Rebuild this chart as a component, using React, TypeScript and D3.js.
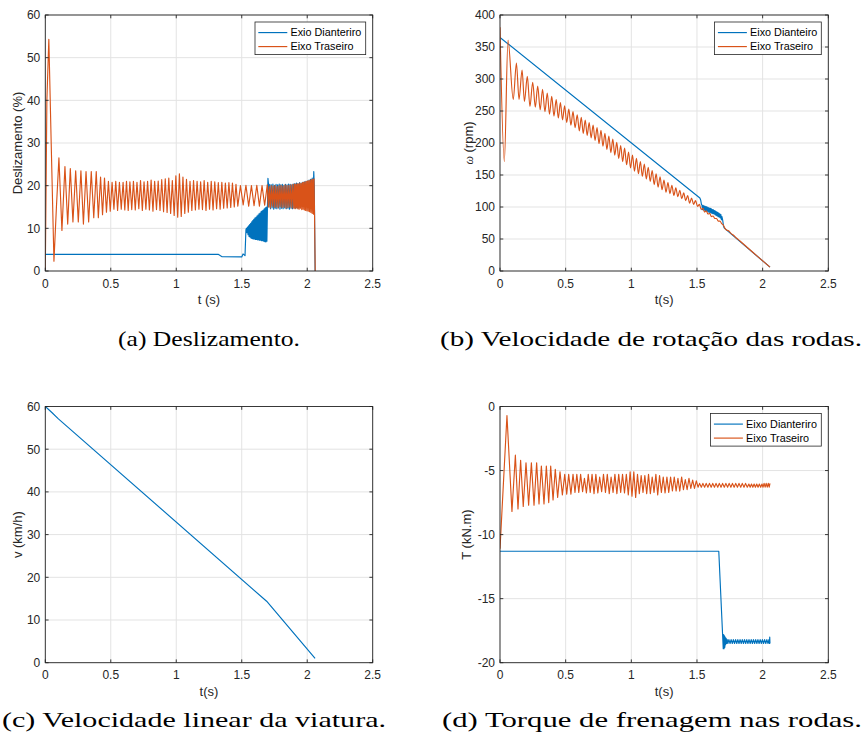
import React from "react";
import * as d3 from "d3";

type Pt = [number, number];

// ---------- ticks / labels ----------
const X_TICKS = [0, 0.5, 1, 1.5, 2, 2.5];
const X_TICK_LABELS = ["0", "0.5", "1", "1.5", "2", "2.5"];
const SLIP_TICKS = [0, 10, 20, 30, 40, 50, 60];
const SLIP_TICK_LABELS = ["0", "10", "20", "30", "40", "50", "60"];
const OMEGA_TICKS = [0, 50, 100, 150, 200, 250, 300, 350, 400];
const OMEGA_TICK_LABELS = ["0", "50", "100", "150", "200", "250", "300", "350", "400"];
const SPEED_TICKS = [0, 10, 20, 30, 40, 50, 60];
const SPEED_TICK_LABELS = ["0", "10", "20", "30", "40", "50", "60"];
const TORQUE_TICKS = [0, -5, -10, -15, -20];
const TORQUE_TICK_LABELS = ["0", "-5", "-10", "-15", "-20"];

const LEGEND_A = ["Exio Dianteriro", "Eixo Traseiro"];
const LEGEND_B = ["Eixo Dianteiro", "Eixo Traseiro"];
const LEGEND_D = ["Eixo Dianteriro", "Eixo Traseiro"];

const CAPTIONS = [
  "(a) Deslizamento.",
  "(b) Velocidade de rotação das rodas.",
  "(c) Velocidade linear da viatura.",
  "(d) Torque de frenagem nas rodas.",
];

// ---------- (a) slip, % ----------
const slipFront: Pt[] = [
  [0, 3.9], [1.32, 3.9], [1.35, 3.35], [1.5, 3.3], [1.51, 4.0], [1.525, 3.6], [1.532, 9.7],
  [1.536, 10.0], [1.54, 9.0], [1.544, 10.3], [1.548, 8.5], [1.552, 10.6], [1.556, 8.1], [1.56, 10.9], [1.564, 7.9],
  [1.568, 11.2], [1.572, 7.7], [1.576, 11.5], [1.58, 7.6], [1.584, 11.8], [1.588, 7.5], [1.592, 12.1], [1.596, 7.5],
  [1.6, 12.4], [1.604, 7.4], [1.608, 12.6], [1.612, 7.4], [1.616, 12.9], [1.62, 7.3], [1.624, 13.1], [1.628, 7.3],
  [1.632, 13.4], [1.636, 7.2], [1.64, 13.6], [1.644, 7.2], [1.648, 13.9], [1.652, 7.1], [1.656, 14.1], [1.66, 7.1],
  [1.664, 14.3], [1.668, 7.0], [1.672, 14.6], [1.676, 6.9], [1.68, 14.8], [1.684, 6.8], [1.688, 15.0], [1.692, 7.0],
  [1.7, 21.7], [1.704, 20.5],
  [1.708, 15.0], [1.714, 20.3], [1.72, 14.6], [1.726, 20.2], [1.732, 14.8], [1.738, 20.4], [1.744, 14.5], [1.75, 20.1],
  [1.756, 14.7], [1.762, 20.3], [1.768, 14.6], [1.774, 20.2], [1.78, 14.8], [1.786, 20.4], [1.792, 14.5], [1.798, 20.2],
  [1.804, 14.7], [1.81, 20.3], [1.816, 14.6], [1.822, 20.1], [1.828, 14.8], [1.834, 20.3], [1.84, 14.6], [1.846, 20.2],
  [1.852, 14.7], [1.858, 20.4], [1.864, 14.5], [1.87, 20.3], [1.876, 14.7], [1.882, 20.2], [1.888, 14.6], [1.894, 20.4],
  [1.9, 14.8], [1.906, 20.5], [1.912, 14.7], [1.918, 20.6], [1.924, 14.8], [1.93, 20.5], [1.936, 14.9], [1.942, 20.7],
  [1.948, 15.0], [1.954, 20.6], [1.96, 15.1], [1.966, 20.8], [1.972, 15.2], [1.978, 20.9], [1.984, 15.3], [1.99, 21.0],
  [1.996, 15.4], [2.002, 21.1], [2.008, 15.5], [2.014, 21.3], [2.02, 15.6], [2.026, 21.5], [2.032, 15.8], [2.038, 21.8],
  [2.044, 16.5], [2.05, 23.3], [2.054, 20.0], [2.06, 0],
];

const slipRear: Pt[] = [
  [0, 0], [0.012, 40], [0.027, 54.3], [0.045, 30], [0.066, 2.3], [0.085, 15], [0.104, 26.5], [0.127, 9.5],
  [0.15, 24.5], [0.171, 11], [0.191, 24], [0.211, 11.5], [0.232, 23.5], [0.252, 11.5], [0.272, 23.5], [0.291, 11],
  [0.311, 23.3], [0.331, 11.5], [0.351, 23.3], [0.37, 12.5], [0.389, 23.3], [0.405, 12.5], [0.422, 22], [0.437, 13.2],
  [0.452, 21.8], [0.467, 13.8], [0.482, 21], [0.496, 14], [0.51, 20.8], [0.524, 14.5], [0.538, 21], [0.552, 14.2],
  [0.566, 20.8], [0.58, 14.5], [0.594, 20.8], [0.607, 14.3], [0.62, 21], [0.633, 14.2], [0.646, 20.9],
  [0.66, 14.4], [0.673, 21.0], [0.687, 14.3], [0.7, 20.8], [0.714, 14.6], [0.727, 21.2], [0.741, 14.2], [0.754, 20.9],
  [0.768, 14.5], [0.781, 21.0], [0.795, 14.3], [0.808, 21.3], [0.822, 14.0], [0.835, 21.0], [0.849, 14.4], [0.862, 21.1],
  [0.876, 14.2], [0.889, 21.4], [0.903, 13.9], [0.916, 21.6], [0.93, 13.7], [0.943, 21.8], [0.957, 13.5], [0.97, 21.2],
  [0.984, 13.0], [0.997, 22.3], [1.011, 12.6], [1.024, 22.8], [1.038, 12.8], [1.051, 22.0], [1.065, 13.5], [1.078, 21.5],
  [1.092, 13.8], [1.105, 21.0], [1.119, 14.2], [1.132, 21.2], [1.146, 14.3], [1.159, 21.0], [1.173, 14.5], [1.186, 20.9],
  [1.2, 14.4], [1.213, 21.2], [1.227, 14.2], [1.24, 20.8], [1.254, 14.5], [1.267, 21.0], [1.281, 14.3], [1.294, 20.9],
  [1.308, 14.6], [1.321, 20.7], [1.335, 14.5], [1.348, 20.8], [1.362, 14.7], [1.375, 20.6], [1.389, 14.8], [1.402, 20.7],
  [1.416, 14.9], [1.429, 20.6], [1.443, 15.0], [1.456, 20.3], [1.47, 15.2],
  [1.49, 20.0], [1.511, 15.5], [1.532, 20.1], [1.553, 15.2], [1.574, 20.0], [1.594, 15.3], [1.615, 20.1], [1.635, 15.2],
  [1.655, 20.0], [1.675, 15.4], [1.695, 20.2],
  [1.703, 15.0], [1.71, 19.8], [1.718, 14.8], [1.725, 20.0], [1.733, 15.2], [1.74, 19.9], [1.748, 14.9], [1.755, 20.1],
  [1.763, 15.0], [1.77, 19.8], [1.778, 14.8], [1.785, 20.0], [1.793, 15.1], [1.8, 20.1], [1.808, 14.9], [1.815, 19.9],
  [1.823, 15.0], [1.83, 20.2], [1.838, 14.7], [1.845, 20.0], [1.853, 14.9], [1.86, 20.1], [1.868, 15.0], [1.875, 20.2],
  [1.883, 14.8], [1.89, 20.3], [1.898, 14.7],
  [1.903, 20.4], [1.908, 14.6], [1.913, 20.3], [1.918, 14.8], [1.923, 20.5], [1.928, 14.6], [1.933, 20.4], [1.938, 14.5],
  [1.943, 20.6], [1.948, 14.7], [1.953, 20.5], [1.958, 14.4], [1.963, 20.7], [1.968, 14.5], [1.973, 20.8], [1.978, 14.3],
  [1.983, 20.9], [1.988, 14.2], [1.993, 21.0], [1.998, 14.1], [2.003, 21.1], [2.008, 14.0], [2.013, 21.2], [2.018, 13.9],
  [2.023, 21.3], [2.028, 13.7], [2.033, 21.4], [2.038, 13.5], [2.043, 21.5], [2.048, 13.3], [2.052, 21.6], [2.056, 13.0],
  [2.061, 0],
];

// ---------- (b) wheel speed, rpm ----------
const omegaFront: Pt[] = [
  [0, 365], [1.522, 114], [1.528, 111], [1.534, 104],
  [1.538, 103], [1.542, 96], [1.546, 102.5], [1.55, 95.5], [1.554, 102], [1.558, 95], [1.562, 101], [1.566, 94],
  [1.57, 100.5], [1.574, 93.5], [1.578, 100], [1.582, 93], [1.586, 99], [1.59, 92], [1.594, 98.5], [1.598, 91.5],
  [1.602, 98], [1.606, 91], [1.61, 97], [1.614, 90], [1.618, 96], [1.622, 89.5], [1.626, 95.5], [1.63, 89],
  [1.634, 94.5], [1.638, 88], [1.642, 93.5], [1.646, 87], [1.65, 92.5], [1.654, 86], [1.658, 91.5], [1.662, 85],
  [1.666, 90.5], [1.67, 84], [1.674, 89.5], [1.678, 83], [1.682, 88], [1.686, 80], [1.69, 85],
  [1.696, 79], [1.702, 70], [1.708, 67], [2.056, 6],
];

const omegaRear: Pt[] = [
  [0, 381], [0.033, 171], [0.061, 361], [0.101, 268], [0.125, 325], [0.145, 268], [0.168, 314], [0.186, 265],
  [0.208, 304], [0.228, 257], [0.249, 295], [0.269, 256], [0.287, 289], [0.306, 252], [0.324, 284], [0.342, 249],
  [0.36, 278], [0.377, 245], [0.394, 273], [0.411, 242], [0.428, 268], [0.444, 239], [0.46, 263], [0.476, 236],
  [0.492, 258], [0.508, 232], [0.524, 253], [0.54, 228], [0.556, 249], [0.572, 224], [0.588, 244], [0.604, 219],
  [0.619, 240], [0.634, 215], [0.649, 236], [0.664, 212], [0.679, 232], [0.694, 208], [0.709, 228], [0.724, 204],
  [0.739, 224], [0.754, 199], [0.769, 220], [0.784, 195], [0.799, 215], [0.814, 190], [0.829, 211], [0.844, 185],
  [0.859, 206], [0.874, 181], [0.889, 201], [0.904, 176], [0.919, 196], [0.934, 171], [0.949, 192], [0.964, 166],
  [0.979, 186], [0.994, 161], [1.009, 181], [1.024, 156], [1.039, 176], [1.054, 152], [1.069, 171], [1.084, 148],
  [1.099, 167], [1.114, 144], [1.129, 162], [1.144, 140], [1.159, 157], [1.174, 135], [1.189, 152], [1.204, 131],
  [1.219, 147], [1.234, 127], [1.249, 142], [1.264, 123], [1.279, 138], [1.294, 121], [1.309, 134], [1.324, 118],
  [1.339, 130], [1.354, 116], [1.369, 126], [1.384, 113], [1.399, 122], [1.414, 110], [1.429, 118], [1.444, 106],
  [1.459, 114], [1.474, 104], [1.489, 110], [1.504, 101], [1.519, 104], [1.532, 96],
  [1.545, 98], [1.558, 92], [1.571, 94], [1.584, 89], [1.597, 90], [1.61, 85], [1.623, 86], [1.636, 82],
  [1.649, 82], [1.662, 78], [1.675, 78], [1.688, 74], [1.7, 72], [1.712, 67], [1.725, 64], [1.74, 63],
  [1.76, 58.5], [1.78, 55.5], [1.8, 51.5], [1.83, 46.5], [1.86, 41], [2.056, 6],
];

// ---------- (c) vehicle speed, km/h ----------
const vehicleSpeed: Pt[] = [[0, 60], [0.05, 58.6], [0.1, 57.1], [1.69, 14.4], [2.06, 1.0]];

// ---------- (d) braking torque, kN.m ----------
const torqueFront: Pt[] = [
  [0, -11.3], [1.666, -11.3], [1.7, -18.9], [1.703, -17.8], [1.706, -18.9], [1.709, -17.9], [1.712, -18.8],
  [1.715, -18.0], [1.718, -18.6], [1.722, -18.1], [1.726, -18.5], [1.73, -18.2],
  [1.735, -18.5], [1.743, -18.2], [1.752, -18.5], [1.76, -18.2], [1.769, -18.5], [1.777, -18.2], [1.786, -18.5],
  [1.794, -18.2], [1.803, -18.5], [1.811, -18.2], [1.82, -18.5], [1.828, -18.2], [1.837, -18.5], [1.845, -18.2],
  [1.854, -18.5], [1.862, -18.2], [1.871, -18.5], [1.879, -18.2], [1.888, -18.5], [1.896, -18.2], [1.905, -18.5],
  [1.913, -18.2], [1.922, -18.5], [1.93, -18.2], [1.939, -18.5], [1.947, -18.2], [1.956, -18.5], [1.964, -18.2],
  [1.973, -18.5], [1.981, -18.2], [1.99, -18.5], [1.998, -18.2], [2.007, -18.5], [2.015, -18.2], [2.024, -18.5],
  [2.032, -18.2], [2.041, -18.5], [2.048, -18.2], [2.052, -18.5], [2.054, -18.0], [2.056, -18.5],
];

const torqueRear: Pt[] = [
  [0, -11.1], [0.053, -0.7], [0.091, -8.2], [0.117, -3.8], [0.137, -8.0], [0.157, -4.2], [0.177, -7.8], [0.198, -4.4],
  [0.218, -7.7], [0.239, -4.4], [0.259, -7.7], [0.279, -4.4], [0.297, -7.6], [0.315, -4.65], [0.335, -7.6], [0.353, -4.65],
  [0.371, -7.5], [0.386, -4.65], [0.404, -7.3], [0.421, -4.9], [0.439, -7.1], [0.457, -5.1], [0.475, -6.9], [0.493, -5.3],
  [0.508, -6.85], [0.523, -5.3], [0.54, -6.85], [0.556, -5.3], [0.571, -6.7], [0.585, -5.3], [0.6, -6.7], [0.614, -5.3],
  [0.629, -6.65], [0.643, -5.6], [0.658, -6.75], [0.672, -5.3], [0.687, -6.7], [0.701, -5.3], [0.716, -6.8], [0.73, -5.3],
  [0.745, -6.75], [0.759, -5.5], [0.774, -6.65], [0.788, -5.3], [0.803, -6.7], [0.817, -5.3], [0.832, -6.8], [0.846, -5.5],
  [0.861, -6.7], [0.875, -5.3], [0.89, -6.8], [0.904, -5.3], [0.919, -6.7], [0.933, -5.3], [0.948, -6.75], [0.962, -5.3],
  [0.977, -6.9], [0.991, -5.1], [1.005, -7.0], [1.019, -5.1], [1.033, -7.1], [1.047, -5.3], [1.061, -6.8], [1.075, -5.4],
  [1.089, -6.7], [1.103, -5.4], [1.117, -6.8], [1.131, -5.3], [1.145, -6.8], [1.159, -5.5], [1.173, -6.7], [1.187, -5.3],
  [1.201, -6.9], [1.215, -5.4], [1.229, -6.7], [1.243, -5.5], [1.257, -6.75], [1.271, -5.5], [1.285, -6.7], [1.299, -5.5],
  [1.313, -6.6], [1.327, -5.5], [1.341, -6.6], [1.355, -5.6], [1.369, -6.6], [1.383, -5.5], [1.397, -6.5], [1.411, -5.7],
  [1.425, -6.5], [1.439, -5.6], [1.453, -6.4], [1.467, -5.75], [1.481, -6.4], [1.495, -5.8],
  [1.508, -6.3], [1.52, -6.0], [1.533, -6.3], [1.545, -6.0], [1.558, -6.3], [1.57, -6.0], [1.583, -6.3], [1.595, -6.0],
  [1.608, -6.3], [1.62, -6.0], [1.633, -6.3], [1.645, -6.0], [1.658, -6.3], [1.67, -6.0], [1.683, -6.3], [1.695, -6.0],
  [1.708, -6.3], [1.72, -6.0], [1.733, -6.3], [1.745, -6.0], [1.758, -6.3], [1.77, -6.0], [1.783, -6.3], [1.795, -6.0],
  [1.808, -6.3], [1.82, -6.0], [1.833, -6.3], [1.845, -6.0], [1.858, -6.3], [1.87, -6.0], [1.883, -6.3], [1.895, -6.05],
  [1.905, -6.3], [1.915, -6.05], [1.925, -6.3], [1.935, -6.05], [1.945, -6.3], [1.955, -6.05], [1.965, -6.3], [1.975, -6.05],
  [1.985, -6.3], [1.995, -6.05], [2.003, -6.3], [2.011, -6.0], [2.019, -6.3], [2.027, -6.0], [2.035, -6.3], [2.043, -6.0],
  [2.05, -6.3], [2.056, -6.0],
];

// ---------- styling ----------
const BLUE = "#0072BD";
const ORANGE = "#D95319";
const AX = "#262626";
const GRID = "#e3e3e3";
const SANS = "'Liberation Sans', Arial, Helvetica, sans-serif";
const SERIF = "'Liberation Serif', 'Times New Roman', serif";

type Series = { data: Pt[]; color: string; smooth?: boolean };
type Box = { x0: number; x1: number; y0: number; y1: number };

function Panel(props: {
  id: string;
  box: Box;
  yDomain: [number, number];
  yTicks: number[];
  yTickLabels: string[];
  series: Series[];
  legend?: { labels: string[]; w: number };
  xLabel: string;
  yLabel: React.ReactNode;
  yLabelX: number;
}) {
  const { id, box, yDomain, yTicks, yTickLabels, series, legend, xLabel, yLabel, yLabelX } = props;
  const x = d3.scaleLinear().domain([0, 2.5]).range([box.x0, box.x1]);
  const y = d3.scaleLinear().domain(yDomain).range([box.y1, box.y0]);
  const tl = 3.3;
  const lineGen = (smooth?: boolean) =>
    d3
      .line<Pt>()
      .x((d) => x(d[0]))
      .y((d) => y(d[1]))
      .curve(smooth ? d3.curveMonotoneX : d3.curveLinear);
  const lg = legend
    ? { x: box.x1 - 7 - legend.w, y: box.y0 + 7, w: legend.w, h: 32.6 }
    : null;
  return (
    <g>
      <defs>
        <clipPath id={`clip-${id}`}>
          <rect x={box.x0} y={box.y0} width={box.x1 - box.x0} height={box.y1 - box.y0} />
        </clipPath>
      </defs>
      <rect x={box.x0} y={box.y0} width={box.x1 - box.x0} height={box.y1 - box.y0} fill="#fff" />
      {X_TICKS.map((t, i) => (
        <line key={`gx${i}`} x1={x(t)} x2={x(t)} y1={box.y0} y2={box.y1} stroke={GRID} strokeWidth={1} />
      ))}
      {yTicks.map((t, i) => (
        <line key={`gy${i}`} x1={box.x0} x2={box.x1} y1={y(t)} y2={y(t)} stroke={GRID} strokeWidth={1} />
      ))}
      <g clipPath={`url(#clip-${id})`}>
        {series.map((s, i) => (
          <path
            key={i}
            d={lineGen(s.smooth)(s.data) || ""}
            fill="none"
            stroke={s.color}
            strokeWidth={1.15}
            strokeLinejoin="round"
          />
        ))}
      </g>
      <rect
        x={box.x0}
        y={box.y0}
        width={box.x1 - box.x0}
        height={box.y1 - box.y0}
        fill="none"
        stroke={AX}
        strokeWidth={0.9}
      />
      {X_TICKS.map((t, i) => (
        <g key={`tx${i}`}>
          <line x1={x(t)} x2={x(t)} y1={box.y1} y2={box.y1 - tl} stroke={AX} strokeWidth={0.9} />
          <line x1={x(t)} x2={x(t)} y1={box.y0} y2={box.y0 + tl} stroke={AX} strokeWidth={0.9} />
          <text x={x(t)} y={box.y1 + 16.6} textAnchor="middle" fontSize={12} fill={AX} fontFamily={SANS}>
            {X_TICK_LABELS[i]}
          </text>
        </g>
      ))}
      {yTicks.map((t, i) => (
        <g key={`ty${i}`}>
          <line x1={box.x0} x2={box.x0 + tl} y1={y(t)} y2={y(t)} stroke={AX} strokeWidth={0.9} />
          <line x1={box.x1} x2={box.x1 - tl} y1={y(t)} y2={y(t)} stroke={AX} strokeWidth={0.9} />
          <text x={box.x0 - 5} y={y(t) + 4.3} textAnchor="end" fontSize={12} fill={AX} fontFamily={SANS}>
            {yTickLabels[i]}
          </text>
        </g>
      ))}
      <text
        x={(box.x0 + box.x1) / 2}
        y={box.y1 + 33}
        textAnchor="middle"
        fontSize={13}
        fill={AX}
        fontFamily={SANS}
      >
        {xLabel}
      </text>
      <text
        transform={`translate(${yLabelX},${(box.y0 + box.y1) / 2}) rotate(-90)`}
        textAnchor="middle"
        fontSize={13}
        fill={AX}
        fontFamily={SANS}
      >
        {yLabel}
      </text>
      {lg && legend && (
        <g>
          <rect x={lg.x} y={lg.y} width={lg.w} height={lg.h} fill="#fff" stroke={AX} strokeWidth={0.8} />
          {legend.labels.map((lab, i) => {
            const cy = lg.y + 10.6 + i * 14;
            return (
              <g key={lab + i}>
                <line
                  x1={lg.x + 3.3}
                  x2={lg.x + 32.3}
                  y1={cy}
                  y2={cy}
                  stroke={i === 0 ? BLUE : ORANGE}
                  strokeWidth={1.15}
                />
                <text x={lg.x + 35.5} y={cy + 3.8} fontSize={10.8} fill="#000" fontFamily={SANS}>
                  {lab}
                </text>
              </g>
            );
          })}
        </g>
      )}
    </g>
  );
}

export default function App() {
  const left = { x0: 45.3, x1: 372.7 };
  const right = { x0: 500, x1: 828.3 };
  const top = { y0: 15, y1: 271 };
  const bot = { y0: 406.5, y1: 662.7 };
  const captionStyle = { fontFamily: SERIF, fontSize: 21, fill: "#000" };
  return (
    <svg
      width={864}
      height={744}
      viewBox="0 0 864 744"
      style={{ position: "absolute", left: 0, top: 0, background: "#fff" }}
    >
      <rect x={0} y={0} width={864} height={744} fill="#fff" />
      <Panel
        id="a"
        box={{ ...left, ...top }}
        yDomain={[0, 60]}
        yTicks={SLIP_TICKS}
        yTickLabels={SLIP_TICK_LABELS}
        series={[
          { data: slipFront, color: BLUE },
          { data: slipRear, color: ORANGE },
        ]}
        legend={{ labels: LEGEND_A, w: 110.7 }}
        xLabel="t (s)"
        yLabel="Deslizamento (%)"
        yLabelX={21.5}
      />
      <Panel
        id="b"
        box={{ ...right, ...top }}
        yDomain={[0, 400]}
        yTicks={OMEGA_TICKS}
        yTickLabels={OMEGA_TICK_LABELS}
        series={[
          { data: omegaFront, color: BLUE },
          { data: omegaRear, color: ORANGE, smooth: true },
        ]}
        legend={{ labels: LEGEND_B, w: 106.7 }}
        xLabel="t(s)"
        yLabel={
          <>
            <tspan fontFamily={SERIF} fontStyle="italic" fontSize={12}>
              ω
            </tspan>
            <tspan> (rpm)</tspan>
          </>
        }
        yLabelX={472.5}
      />
      <Panel
        id="c"
        box={{ ...left, ...bot }}
        yDomain={[0, 60]}
        yTicks={SPEED_TICKS}
        yTickLabels={SPEED_TICK_LABELS}
        series={[{ data: vehicleSpeed, color: BLUE }]}
        xLabel="t(s)"
        yLabel="v (km/h)"
        yLabelX={21.5}
      />
      <Panel
        id="d"
        box={{ ...right, ...bot }}
        yDomain={[-20, 0]}
        yTicks={TORQUE_TICKS}
        yTickLabels={TORQUE_TICK_LABELS}
        series={[
          { data: torqueFront, color: BLUE },
          { data: torqueRear, color: ORANGE },
        ]}
        legend={{ labels: LEGEND_D, w: 110.7 }}
        xLabel="t(s)"
        yLabel="T (kN.m)"
        yLabelX={471}
      />
      <text x={209} y={346} textAnchor="middle" textLength={182} lengthAdjust="spacingAndGlyphs" style={captionStyle}>
        {CAPTIONS[0]}
      </text>
      <text x={651} y={346} textAnchor="middle" textLength={422} lengthAdjust="spacingAndGlyphs" style={captionStyle}>
        {CAPTIONS[1]}
      </text>
      <text x={194} y={727} textAnchor="middle" textLength={384} lengthAdjust="spacingAndGlyphs" style={captionStyle}>
        {CAPTIONS[2]}
      </text>
      <text x={652} y={727} textAnchor="middle" textLength={420} lengthAdjust="spacingAndGlyphs" style={captionStyle}>
        {CAPTIONS[3]}
      </text>
    </svg>
  );
}
